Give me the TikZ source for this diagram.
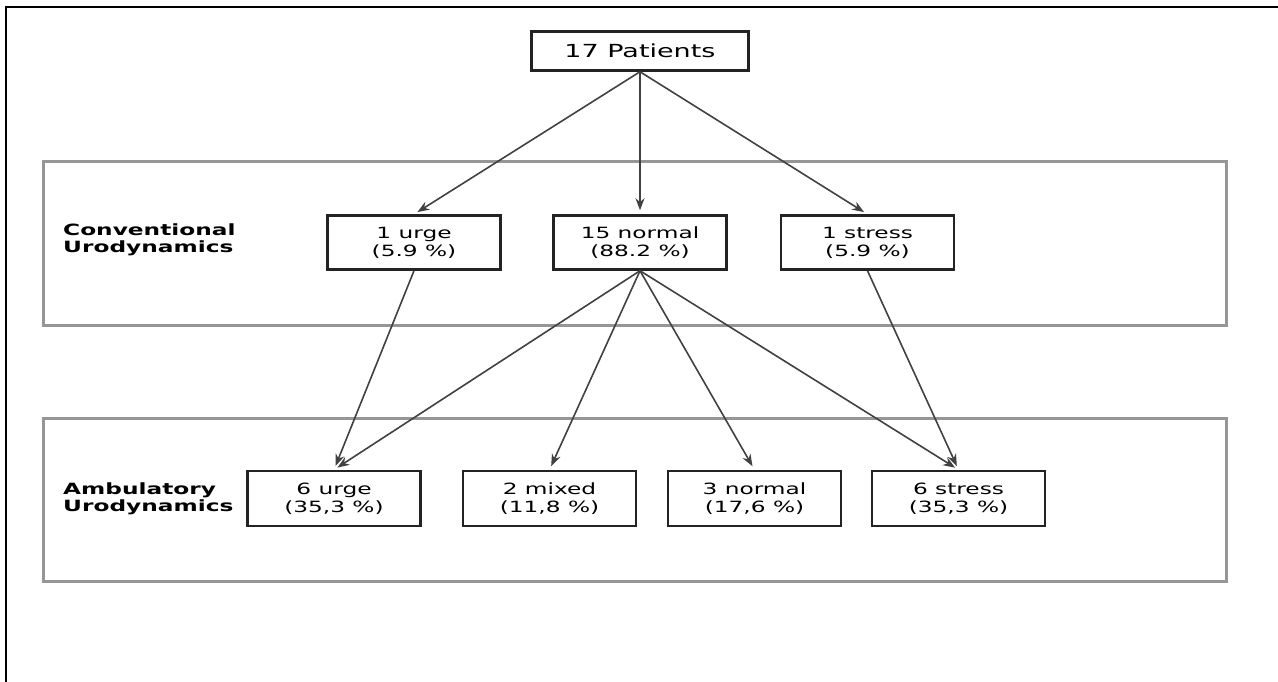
\documentclass[tikz,border=0pt]{standalone}
\usepackage{fontspec}
\usepackage{xcolor}
\usepackage{tikz}
\newfontfamily\diagfont[FakeStretch=1.5]{DejaVu Sans}
\definecolor{panelgray}{RGB}{150, 150, 150}
\definecolor{linegray}{RGB}{65, 65, 65}
\definecolor{boxedge}{RGB}{35, 35, 35}
\usetikzlibrary{arrows.meta, positioning, calc}

\begin{document}
\begin{tikzpicture}[
    x=1pt, y=-1pt,
    box/.style={rectangle, draw=boxedge, fill=white, line width=2.5pt, minimum width=173pt, minimum height=54pt, inner sep=0pt, align=center, font=\diagfont\fontsize{15.5}{18}\selectfont},
    rowlabel/.style={anchor=west, align=left, inner sep=0pt, font=\diagfont\bfseries\fontsize{15.5}{17.5}\selectfont},
    panel/.style={draw=panelgray, line width=3pt},
    arrow/.style={-{Stealth[length=12pt, width=9pt]}, draw=linegray, line width=1.6pt, shorten >=4pt}
]
    \useasboundingbox (0,0) rectangle (1278,682);
    % page frame (only top and left edge show)
    \draw[line width=2pt] (6,682) -- (6,7) -- (1278,7);

    % the two bands
    \draw[panel] (43,162) rectangle (1226,325);
    \draw[panel] (43,418) rectangle (1226,581);

    \node[box, minimum width=217pt, minimum height=39pt, font=\diagfont\fontsize{18}{20}\selectfont] (patients) at (640,51) {17 Patients};

    \node[rowlabel] (convlabel) at (63,240) {Conventional\\Urodynamics};
    \node[box] (urge1) at (414,242.5) {1 urge\\(5.9 \%)};
    \node[box] (normal15) at (640,242.5) {15 normal\\(88.2 \%)};
    \node[box] (stress1) at (867.5,242.5) {1 stress\\(5.9 \%)};

    \node[rowlabel] (amblabel) at (63,499) {Ambulatory\\Urodynamics};
    \node[box, minimum height=55pt] (urge6) at (334,498.5) {6 urge\\(35,3 \%)};
    \node[box, minimum height=55pt] (mixed2) at (549.5,498.5) {2 mixed\\(11,8 \%)};
    \node[box, minimum height=55pt] (normal3) at (754.5,498.5) {3 normal\\(17,6 \%)};
    \node[box, minimum height=55pt] (stress6) at (958.5,498.5) {6 stress\\(35,3 \%)};

    \draw[arrow] (patients.south) -- (urge1.north);
    \draw[arrow] (patients.south) -- (normal15.north);
    \draw[arrow] (patients.south) -- (stress1.north);

    \draw[arrow] (urge1.south) -- (urge6.north);
    \draw[arrow] (normal15.south) -- (urge6.north);
    \draw[arrow] (normal15.south) -- (mixed2.north);
    \draw[arrow] (normal15.south) -- (normal3.north);
    \draw[arrow] (normal15.south) -- (stress6.north);
    \draw[arrow] (stress1.south) -- (stress6.north);
\end{tikzpicture}
\end{document}
